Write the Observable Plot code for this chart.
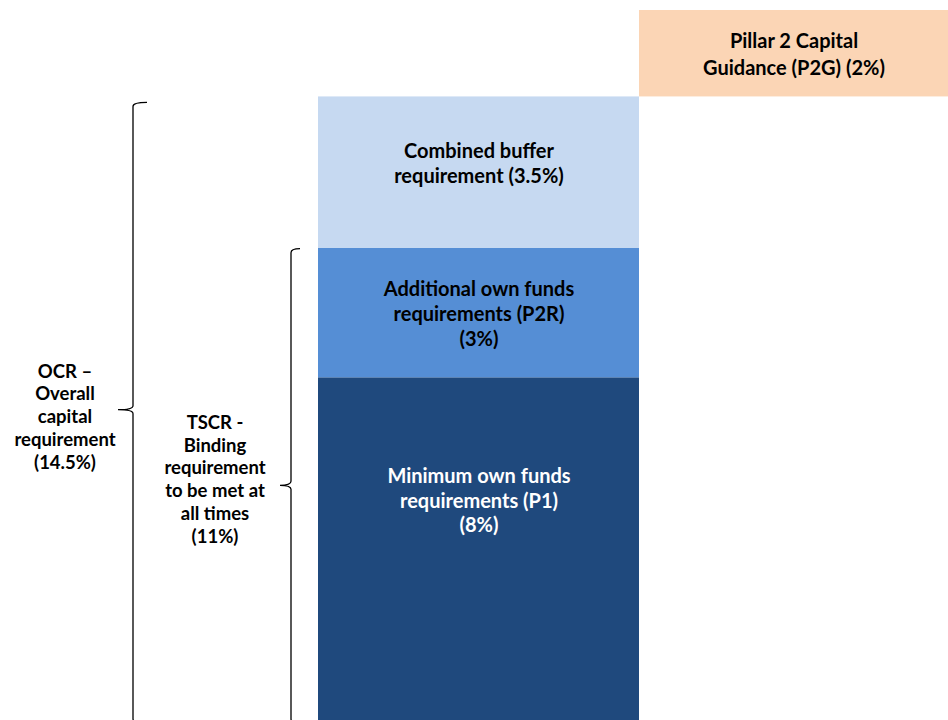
<!DOCTYPE html>
<html>
<head>
<meta charset="utf-8">
<script src="https://cdn.jsdelivr.net/npm/d3@7"></script>
<script src="https://cdn.jsdelivr.net/npm/@observablehq/plot@0.6"></script>
<style>
  html, body { margin: 0; padding: 0; background: #fff; overflow: hidden; }
  svg { display: block; }
</style>
</head>
<body>
<div id="chart"></div>
<script>
// ---- data ----
const barCategories = ["Requirements", "Guidance"];
const segmentNames = [
  "Minimum own funds\nrequirements (P1)\n(8%)",
  "Additional own funds\nrequirements (P2R)\n(3%)",
  "Combined buffer\nrequirement (3.5%)"
];
const segmentValues = [8, 3, 3.5];
const segmentColors = ["#1F497D", "#558ED5", "#C6D9F1"];
const segmentTextColors = ["#ffffff", "#000000", "#000000"];

const guidanceName = "Pillar 2 Capital\nGuidance (P2G) (2%)";
const guidanceValue = 2;
const guidanceColor = "#FBD5B5";

const braceLabels = [
  "OCR –\nOverall\ncapital\nrequirement\n(14.5%)",
  "TSCR -\nBinding\nrequirement\nto be met at\nall times\n(11%)"
];
const braceValues = [14.5, 11]; // each brace spans 0 .. value

// ---- derived tables ----
const segments = segmentNames.map((name, i) => ({
  category: barCategories[0],
  name,
  value: segmentValues[i],
  fill: segmentColors[i],
  textFill: segmentTextColors[i],
  y1: d3.sum(segmentValues.slice(0, i)),
  y2: d3.sum(segmentValues.slice(0, i + 1))
}));
const total = d3.sum(segmentValues);
const guidance = [{category: barCategories[1], name: guidanceName, y1: total, y2: total + guidanceValue}];

const FONT = "Lato, 'Open Sans', sans-serif";

// custom mark: curly braces with labels, positioned with the y scale
function braces(index, scales, values, dimensions) {
  const y = scales.y;
  const g = d3.create("svg:g");
  const specs = [
    {xLine: 133, right: 14, left: 15, topInset: 6, labelX: 65, labelDy: 7},
    {xLine: 291, right: 9, left: 11, topInset: 1, labelX: 215, labelDy: -6}
  ];
  braceValues.forEach((v, i) => {
    const s = specs[i];
    const yTop = y(v) + s.topInset;
    const yBot = y(0);
    const yMid = y(v / 2);
    const x0 = s.xLine, r = 4;
    const path = [
      `M${x0 + s.right},${yTop}`,
      `Q${x0},${yTop} ${x0},${yTop + r}`,
      `L${x0},${yMid - r}`,
      `Q${x0},${yMid} ${x0 - s.left},${yMid}`,
      `Q${x0},${yMid} ${x0},${yMid + r}`,
      `L${x0},${yBot - r}`,
      `Q${x0},${yBot} ${x0 + s.right},${yBot}`
    ].join(" ");
    g.append("path")
      .attr("d", path)
      .attr("fill", "none")
      .attr("stroke", "#000")
      .attr("stroke-width", 1.3);
    const lines = braceLabels[i].split("\n");
    const lh = 22.7;
    const t = g.append("text")
      .attr("text-anchor", "middle")
      .attr("font-family", FONT)
      .attr("font-weight", 700)
      .attr("font-size", 18.5)
      .attr("fill", "#000");
    lines.forEach((ln, j) => {
      t.append("tspan")
        .attr("x", s.labelX)
        .attr("y", yMid + s.labelDy + (j - (lines.length - 1) / 2) * lh)
        .attr("dy", "0.35em")
        .text(ln);
    });
  });
  return g.node();
}

const textOpts = {
  fontFamily: FONT,
  fontWeight: 700,
  fontSize: 20,
  lineHeight: 1.24
};

const plot = Plot.plot({
  width: 948,
  height: 720,
  margin: 0,
  style: {background: "#fff", overflow: "hidden"},
  x: {type: "band", domain: barCategories, range: [318, 948], padding: 0, axis: null},
  y: {domain: [0, total + guidanceValue], range: [723, 10], axis: null},
  marks: [
    Plot.rectY(segments, {x: "category", y1: "y1", y2: "y2", fill: d => d.fill, insetRight: -6}),
    Plot.rectY(guidance, {x: "category", y1: "y1", y2: "y2", fill: guidanceColor, insetLeft: 6}),
    // P2R segment label (centred)
    Plot.text(segments.filter((d, i) => i === 1), {
      x: "category", y: d => (d.y1 + d.y2) / 2, text: "name", fill: d => d.textFill, dx: 3, ...textOpts
    }),
    // CBR segment label
    Plot.text(segments.filter((d, i) => i === 2), {
      x: "category", y: d => (d.y1 + d.y2) / 2, text: "name", fill: d => d.textFill, dx: 3, dy: -10, ...textOpts
    }),
    // P1 segment label
    Plot.text(segments.filter((d, i) => i === 0), {
      x: "category", y: d => (d.y1 + d.y2) / 2, text: "name", fill: d => d.textFill, dx: 3, dy: -51, ...textOpts
    }),
    // P2G label
    Plot.text(guidance, {
      x: "category", y: d => (d.y1 + d.y2) / 2, text: "name", fill: "#000", dx: 3, dy: -1,
      ...textOpts, lineHeight: 1.35
    }),
    braces
  ]
});

document.getElementById("chart").appendChild(plot);
</script>
</body>
</html>
